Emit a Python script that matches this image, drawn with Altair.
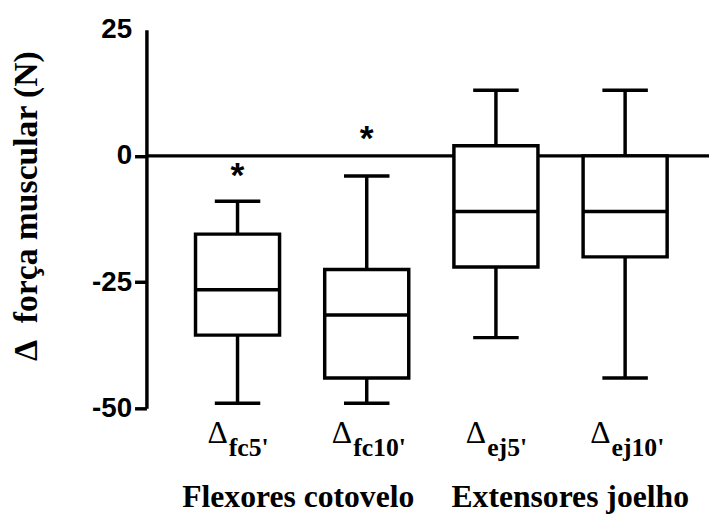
import altair as alt
import pandas as pd

# ---- data ----
subs = ["fc5'", "fc10'", "ej5'", "ej10'"]
groups = ["Flexores cotovelo", "Flexores cotovelo", "Extensores joelho", "Extensores joelho"]
whisk_lo = [-49.0, -49.0, -36.0, -44.0]
q1 = [-35.5, -44.0, -22.0, -20.0]
median = [-26.5, -31.5, -11.0, -11.0]
q3 = [-15.5, -22.5, 2.0, 0.0]
whisk_hi = [-9.0, -4.0, 13.0, 13.0]
stars = ["*", "*", "", ""]
star_y = [-3.5, 4.0, None, None]
group_names = ["Flexores cotovelo", "Extensores joelho"]
group_x = [1.47, 3.575]          # group label anchors, in category-index units
y_ticks = [-50, -25, 0, 25]
zero_line = [0]

df = pd.DataFrame({
    "idx": [1, 2, 3, 4],
    "sub": subs,
    "group": groups,
    "lo": whisk_lo,
    "q1": q1,
    "med": median,
    "q3": q3,
    "hi": whisk_hi,
    "star": stars,
    "star_y": star_y,
})
gdf = pd.DataFrame({"group": group_names, "gx": group_x})

W, H = 569, 383
LW = 3.5
xs = alt.Scale(domain=[0.333, 4.611])
ys = alt.Scale(domain=[-50, 25], nice=False, zero=False)
X = alt.X("idx:Q", scale=xs, axis=None)
PX_PER_UNIT = W / (4.611 - 0.333)

base = alt.Chart(df)

zero = alt.Chart(pd.DataFrame({"v": zero_line})).mark_rule(
    strokeWidth=LW, color="black"
).encode(
    y=alt.Y(
        "v:Q",
        scale=ys,
        axis=alt.Axis(
            values=y_ticks,
            labelExpr="'' + datum.value",
            title="Δ\u00a0\u00a0força muscular (N)",
            titleFont="Liberation Serif",
            titleFontSize=34,
            titleFontWeight="bold",
            titleColor="black",
            titleX=-121,
            titleY=178,
            titleAngle=270,
            titleAlign="center",
            titleBaseline="middle",
            labelFont="Liberation Sans",
            labelFontSize=28,
            labelFontWeight="bold",
            labelColor="black",
            labelPadding=3,
            tickSize=12,
            tickWidth=LW,
            tickColor={"condition": {"test": "datum.value === 25", "value": "transparent"}, "value": "black"},
            domainColor="black",
            domainWidth=LW,
            grid=False,
        ),
    ),
    x=alt.value(0),
    x2=alt.value(W),
)

whiskers = base.mark_rule(strokeWidth=LW, color="black").encode(
    x=X, y=alt.Y("lo:Q", scale=ys), y2="hi:Q",
)

caps_lo = base.mark_tick(orient="horizontal", size=46, thickness=LW, color="black", opacity=1).encode(
    x=X, y=alt.Y("lo:Q", scale=ys)
)
caps_hi = base.mark_tick(orient="horizontal", size=46, thickness=LW, color="black", opacity=1).encode(
    x=X, y=alt.Y("hi:Q", scale=ys)
)

boxes = base.mark_bar(size=85, fill="white", stroke="black", strokeWidth=LW, opacity=1).encode(
    x=X, y=alt.Y("q1:Q", scale=ys), y2="q3:Q"
)

medians = base.mark_tick(orient="horizontal", size=87, thickness=LW, color="black", opacity=1).encode(
    x=X, y=alt.Y("med:Q", scale=ys)
)

star_txt = base.transform_filter("datum.star != ''").mark_text(
    font="Liberation Sans", fontSize=36, fontWeight="bold", color="black",
    baseline="alphabetic", align="center", dy=14,
).encode(x=X, y=alt.Y("star_y:Q", scale=ys), text="star:N")

# label anchor: the Δ + subscript pair is centred under each box
label_calc = f"datum.idx + (20 - 10 * length(datum.sub)) / 2 / {PX_PER_UNIT}"

delta_txt = base.transform_calculate(xl=label_calc).mark_text(
    font="Liberation Serif", fontSize=32, color="black",
    baseline="alphabetic", align="right",
).encode(
    x=alt.X("xl:Q", scale=xs, axis=None),
    y=alt.value(418),
    text=alt.value("Δ"),
)

sub_txt = base.transform_calculate(xl=label_calc).mark_text(
    font="Liberation Serif", fontSize=26, fontWeight="bold", color="black",
    baseline="alphabetic", align="left", dx=1,
).encode(
    x=alt.X("xl:Q", scale=xs, axis=None),
    y=alt.value(431),
    text="sub:N",
)

group_txt = alt.Chart(gdf).mark_text(
    font="Liberation Serif", fontSize=32, fontWeight="bold", color="black",
    baseline="alphabetic", align="center",
).encode(
    x=alt.X("gx:Q", scale=xs, axis=None),
    y=alt.value(483),
    text="group:N",
)

chart = alt.layer(
    zero, whiskers, caps_lo, caps_hi, boxes, medians, star_txt, delta_txt, sub_txt, group_txt
).properties(
    width=W,
    height=H,
    padding={"left": 140, "top": 19, "right": 0, "bottom": 106},
    autosize=alt.AutoSizeParams(type="none"),
    background="white",
).configure_view(stroke=None)

chart.save("out.html", embed_options={"renderer": "svg", "actions": False})
